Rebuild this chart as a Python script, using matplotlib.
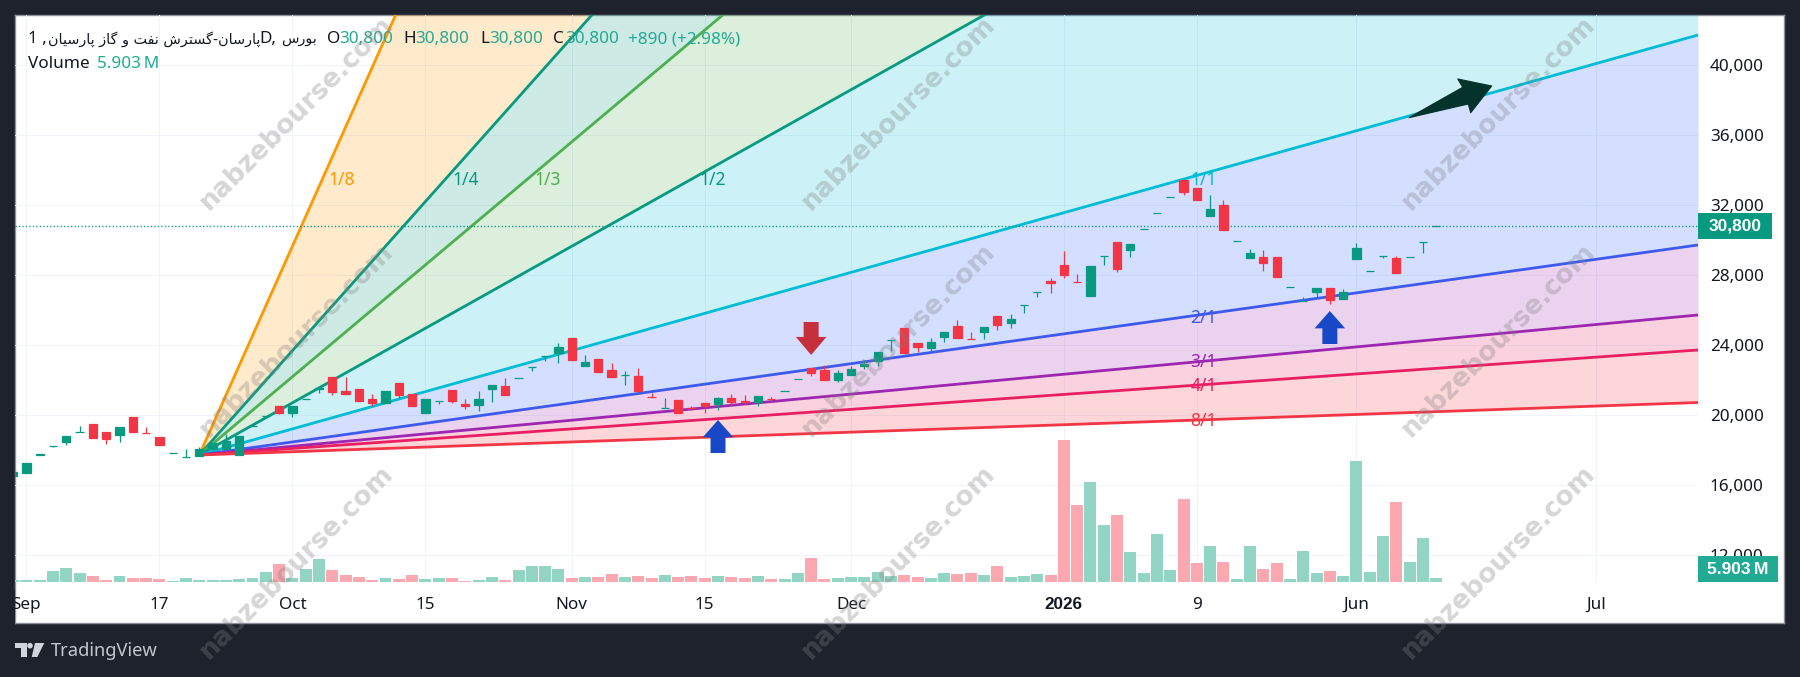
import numpy as np
import matplotlib
matplotlib.use("Agg")
import matplotlib.pyplot as plt
from matplotlib.patches import Polygon, Circle, Rectangle

plt.rcParams['font.family'] = ['Noto Sans', 'DejaVu Sans']

# daily candles, first bar is the one just before the Sep tick
bars = np.arange(-1, 107)
opens = [16530,16700,17740,18240,18460,19000,19490,19010,18880,19870,18960,18720,17800,17610,17660,18080,18080,17730,19360,19920,
         20500,20130,20910,21510,22170,21370,21490,20910,20690,21830,21200,20130,20810,21430,20630,20590,21490,21660,22090,22720,
         23360,23560,24380,22820,23180,22570,22280,22230,21010,20390,20860,20400,20670,20650,20990,20780,20760,20900,21350,22030,
         22680,22570,22000,22280,22780,23100,24260,24970,24110,23830,24460,25070,24330,24740,25640,25260,26260,27000,27680,28570,
         27620,26820,29060,29890,29430,30600,31520,32430,33430,32970,31370,32000,29940,28970,29030,29030,27310,26510,27030,27260,
         26650,28910,28200,29060,28970,29000,29900,30800]
highs = [16720,17240,17760,18250,18800,19370,19490,19010,19290,19870,19290,18720,17810,18080,18190,18420,18910,18780,19370,19930,
         20500,20500,20920,21520,22170,22170,21490,21180,21370,21830,21200,20910,20820,21430,20900,21350,21700,22100,22100,22730,
         23370,24100,24380,23430,23180,22950,22510,22670,21240,20950,20860,20510,20670,21050,21200,21120,21080,21030,21360,22040,
         22680,22860,22570,22820,23140,23580,24270,24970,24110,24380,24740,25430,24740,25010,25640,25750,26270,27010,27810,29350,
         28060,28510,29070,29890,29770,30610,31530,32440,33430,32970,32570,32290,29950,29490,29430,29030,27320,26740,27260,27260,
         27200,29830,28210,29070,29090,29010,29910,30800]
lows = [16530,16700,17740,18190,18290,19000,18700,18340,18460,19050,18950,18300,17800,17610,17660,18080,18080,17730,19360,19920,
        20060,19900,20910,21240,21120,21220,20800,20510,20690,20950,20530,20130,20650,20690,20360,20250,20740,21160,22090,22530,
        23100,22950,23160,22820,22480,22170,21710,21390,21000,20390,20130,20270,20130,20280,20570,20630,20530,20720,21350,22030,
        22230,22020,21880,22280,22630,22800,23660,23540,23600,23660,24170,24400,24320,24340,24860,24970,25850,26760,26990,27850,
        27610,26820,28570,28190,29050,30600,31520,32430,32570,32290,31370,30570,29940,28970,28230,27890,27310,26510,26740,26340,
        26650,28910,28200,28970,28110,29000,29260,30800]
closes = [16720,17240,17760,18250,18800,19010,18700,18630,19290,19050,18950,18300,17810,17620,18040,18420,18530,18780,19370,19930,
          20110,20500,20920,21520,21310,21220,20800,20690,21370,21140,20530,20910,20820,20780,20500,20910,21700,21160,22100,22730,
          23370,23870,23160,23010,22480,22170,22290,21390,21000,20400,20130,20390,20510,20990,20740,20770,21080,20890,21360,22040,
          22420,22020,22400,22630,22890,23580,24270,23540,23880,24150,24740,24400,24320,25010,25140,25490,26270,27010,27560,28000,
          27610,28510,29070,28340,29770,30610,31530,32440,32740,32290,31770,30570,29950,29260,28690,27890,27320,26520,27260,26570,
          27030,29540,28210,29070,28110,29010,29910,30800]
# volume in millions
volumes = [3.4,3.4,3.4,16.7,21.1,12.8,9.3,3.4,9.3,5.5,5.5,4.0,1.9,6.3,3.4,3.4,3.4,4.9,6.3,15.2,
           27.0,6.3,18.7,34.4,17.3,10.8,7.8,3.4,6.3,4.9,10.8,4.9,6.3,5.5,1.9,3.4,7.8,3.4,18.2,23.2,
           23.2,18.7,6.3,7.8,7.4,11.8,7.4,8.9,5.9,10.3,7.4,8.9,5.9,8.9,7.4,5.9,8.9,4.4,4.4,13.3,
           35.4,4.4,5.9,7.4,7.4,14.8,8.9,10.3,7.4,5.9,13.3,11.8,13.3,10.3,23.6,7.4,8.9,11.8,10.3,209.6,
           113.6,147.6,84.1,98.9,44.3,13.3,70.8,17.7,122.5,28.0,53.1,29.5,4.4,53.1,19.2,28.0,4.4,45.8,13.3,16.2,
           8.9,178.6,14.8,67.9,118.1,29.5,64.9,5.903]

# gann fan: one anchor, each ray ends at the right edge of the pane
fan_labels = ['1/8', '1/4', '1/3', '1/2', '1/1', '2/1', '3/1', '4/1', '8/1']
fan_end_prices = [209714, 113714, 89714, 65714, 41714, 29714, 25714, 23714, 20714]
fan_colors = ['#ff9800', '#089981', '#4caf50', '#089981', '#00bcd4', '#3d5aec', '#9c27b0', '#e91e63', '#f23645']
band_colors = ['#ff9800', '#089981', '#4caf50', '#00bcd4', '#2962ff', '#9c27b0', '#e91e63', '#f23645']
fan_label_bars = [23.7, 33.0, 39.2, 51.6, 88.5, 88.5, 88.5, 88.5, 88.5]
fan_label_prices = [33430, 33430, 33430, 33430, 33430, 25540, 23030, 21660, 19660]
anchor_bar = 13
anchor_price = 17714

# the dark trend arrow top right, drawn by hand on the chart
trend_arrow_bars = [103.95, 108.41, 108.59, 110.17, 107.62, 107.99]
trend_arrow_prices = [36989, 37771, 37274, 38800, 39200, 38726]

tick_bars = [0, 10, 20, 30, 41, 51, 62, 78, 88, 100, 118]
tick_names = ['Sep', '17', 'Oct', '15', 'Nov', '15', 'Dec', '2026', '9', 'Jun', 'Jul']
price_ticks = [12000, 16000, 20000, 24000, 28000, 32000, 36000, 40000]

last_price = 30800
last_volume = 5.903

GREEN = '#089981'
RED = '#f23645'
TEAL = '#22ab94'
BLACK = '#131722'
BG = '#1e222d'
W, H = 1800, 677


def rect_px(x0, y0, x1, y1):
    return [x0 / W, 1 - y1 / H, (x1 - x0) / W, (y1 - y0) / H]


# no text shaping in matplotlib, so join the letters by hand
FORMS = {
    'پ': (0xFB56, 0xFB57, 0xFB58, 0xFB59), 'ب': (0xFE8F, 0xFE90, 0xFE91, 0xFE92),
    'س': (0xFEB1, 0xFEB2, 0xFEB3, 0xFEB4), 'ش': (0xFEB5, 0xFEB6, 0xFEB7, 0xFEB8),
    'ن': (0xFEE5, 0xFEE6, 0xFEE7, 0xFEE8), 'گ': (0xFB92, 0xFB93, 0xFB94, 0xFB95),
    'ت': (0xFE95, 0xFE96, 0xFE97, 0xFE98), 'ف': (0xFED1, 0xFED2, 0xFED3, 0xFED4),
    'ی': (0xFBFC, 0xFBFD, 0xFBFE, 0xFBFF),
    'ا': (0xFE8D, 0xFE8E, None, None), 'ر': (0xFEAD, 0xFEAE, None, None),
    'ز': (0xFEAF, 0xFEB0, None, None), 'و': (0xFEED, 0xFEEE, None, None),
}


def shape_fa(text):
    out = []
    for k, ch in enumerate(text):
        if ch not in FORMS:
            out.append(ch)
            continue
        prev_joins = k > 0 and text[k - 1] in FORMS and FORMS[text[k - 1]][2] is not None
        next_joins = k + 1 < len(text) and text[k + 1] in FORMS and FORMS[ch][2] is not None
        idx = {(False, False): 0, (True, False): 1, (False, True): 2, (True, True): 3}[(prev_joins, next_joins)]
        out.append(chr(FORMS[ch][idx]))
    return ''.join(reversed(out))


fig = plt.figure(figsize=(W / 100, H / 100), dpi=100, facecolor=BG)

# white pane with the thin grey frame
pane = fig.add_axes(rect_px(15, 15, 1784, 623), facecolor='white', zorder=-1)
pane.set_xticks([])
pane.set_yticks([])
for s in pane.spines.values():
    s.set_color('#8d9097')
    s.set_linewidth(1)

ax = fig.add_axes(rect_px(15, 15, 1698, 582), zorder=1)
ax.patch.set_visible(False)
ax.set_xlim(-0.857, 125.68)
ax.set_ylim(10457, 42857)
for s in ax.spines.values():
    s.set_visible(False)

ax.grid(True, color='#f0f3fa', lw=0.7, zorder=0)
ax.set_axisbelow(True)
ax.yaxis.tick_right()
ax.set_yticks(price_ticks)
ax.set_yticklabels([f'{p:,}' for p in price_ticks], fontsize=12.3, color=BLACK, ha='left')
ax.set_xticks(tick_bars)
ax.set_xticklabels(tick_names, fontsize=12.3, color=BLACK)
ax.tick_params(axis='both', length=0)
ax.tick_params(axis='y', pad=8.5)
ax.tick_params(axis='x', pad=10.5)
for lbl in ax.get_xticklabels():
    if lbl.get_text() == '2026':
        lbl.set_fontweight('bold')
        lbl.set_family('Liberation Sans')

# fan bands then rays
right_bar = ax.get_xlim()[1]
fan_x = [anchor_bar, right_bar]
for k in range(len(band_colors)):
    ax.fill_between(fan_x, [anchor_price, fan_end_prices[k]], [anchor_price, fan_end_prices[k + 1]],
                    color=band_colors[k], alpha=0.2, lw=0, zorder=1)
for k, name in enumerate(fan_labels):
    ax.plot(fan_x, [anchor_price, fan_end_prices[k]], color=fan_colors[k], lw=2.0, zorder=2,
            solid_capstyle='butt')
    ax.text(fan_label_bars[k], fan_label_prices[k], name, color=fan_colors[k], fontsize=12.5,
            ha='center', va='center', zorder=3)

# last price dotted line
ax.axhline(last_price, color=GREEN, lw=1.0, ls=(0, (0.9, 1.6)), zorder=2)

# candles
opens = np.array(opens)
closes = np.array(closes)
highs = np.array(highs)
lows = np.array(lows)
up = closes >= opens
colors = np.where(up, GREEN, RED)
ax.vlines(bars, lows, highs, colors=colors, lw=0.9, zorder=4)
ax.bar(bars, np.abs(closes - opens), bottom=np.minimum(opens, closes), width=0.62,
       color=colors, edgecolor=colors, lw=0.9, zorder=5)

# hand drawn arrows
ax.annotate('', xy=(59, 23429), xytext=(59, 25314), zorder=6,
            arrowprops=dict(facecolor='#c62f3c', edgecolor='none', width=10.8, headwidth=22, headlength=13, shrink=0))
for bar_i, tip, tail in [(52, 19714, 17829), (98, 25943, 24057)]:
    ax.annotate('', xy=(bar_i, tip), xytext=(bar_i, tail), zorder=6,
                arrowprops=dict(facecolor='#1848c8', edgecolor='none', width=10.8, headwidth=22, headlength=12.5, shrink=0))
ax.add_patch(Polygon(list(zip(trend_arrow_bars, trend_arrow_prices)), closed=True, facecolor='#04332c',
                     edgecolor='#04332c', lw=0.8, joinstyle='round', zorder=6))

# volume pane on the same bars, 836.9M fills the height
vol = fig.add_axes(rect_px(15, 15, 1698, 582), zorder=2, sharex=ax)
vol.patch.set_visible(False)
vol.axis('off')
vol.set_ylim(0, 836.9)
vol.bar(bars, volumes, width=0.9, color=np.where(up, '#92d5c5', '#fba8b1'), lw=0)

# badges on the price scale
price_tr = ax.get_yaxis_transform()
vol.add_patch(Rectangle((1, last_price - 740), 74 / 1683, 1480, transform=price_tr, clip_on=False,
                        facecolor=GREEN, edgecolor='none', zorder=8))
vol.text(1 + 37 / 1683, last_price, f'{last_price:,}', transform=price_tr, color='white', fontsize=12.5,
         ha='center', va='center', fontweight='bold', family='Liberation Sans', zorder=9)
vol_tr = vol.get_yaxis_transform()
vol.add_patch(Rectangle((1, 0), 80 / 1683, 26 * 1.476, transform=vol_tr, clip_on=False,
                        facecolor=TEAL, edgecolor='none', zorder=8))
vol.text(1 + 40 / 1683, 13 * 1.476, f'{last_volume:.3f}\u2009M', transform=vol_tr, color='white', fontsize=12.5,
         ha='center', va='center', fontweight='bold', family='Liberation Sans', zorder=9)


def label(x, y, s, color=BLACK, size=12.3, **kw):
    fig.text(x / W, 1 - y / H, s, color=color, fontsize=size, va='center', ha='left', zorder=20, **kw)


# legend rows
label(28, 39, '1 ,')
label(48, 39, shape_fa('پارسان-گسترش نفت و گاز پارسیان'), size=10.4, family=['DejaVu Sans'])
label(259, 39, 'D,')
label(281, 39, shape_fa('بورس'), size=10.4, family=['DejaVu Sans'])
for name, x_name, x_val in [('O', 327, 339), ('H', 403, 415), ('L', 480, 489), ('C', 553, 565)]:
    label(x_name, 39, name)
    label(x_val, 39, '30,800', color=TEAL)
label(628, 39, '+890 (+2.98%)', color=TEAL)
label(28, 64, 'Volume')
label(97, 64, f'{last_volume:.3f}\u2009M', color=TEAL)

# watermark, repeated on a grid
for cx in [297, 899, 1499]:
    for cy in [113, 340, 562]:
        fig.text(cx / W, 1 - cy / H, 'nabzebourse.com', rotation=45, color='#808080', alpha=0.32,
                 fontsize=19, fontweight='bold', family=['DejaVu Sans'], ha='center', va='center',
                 rotation_mode='anchor', zorder=30)

# footer: TradingView mark, and a strip that trims the Sep label at the pane edge
logo = fig.add_axes([0, 0, 1, 1], zorder=10)
logo.set_xlim(0, W)
logo.set_ylim(H, 0)
logo.axis('off')
logo.patch.set_visible(False)
logo.add_patch(Rectangle((0, 590), 14.5, 34, facecolor=BG, edgecolor='none'))
LOGO = '#d1d4dc'
logo.add_patch(Polygon([(15, 643), (27, 643), (27, 657), (21, 657), (21, 648), (15, 648)], facecolor=LOGO, edgecolor='none'))
logo.add_patch(Circle((30, 645.7), 2.8, facecolor=LOGO, edgecolor='none'))
logo.add_patch(Polygon([(35, 643), (44.3, 643), (37.3, 657), (31.7, 657)], facecolor=LOGO, edgecolor='none'))
label(51, 651, 'TradingView', color='#c3c6ce', size=13.2)

fig.savefig('out.png', dpi=100, facecolor=fig.get_facecolor())
